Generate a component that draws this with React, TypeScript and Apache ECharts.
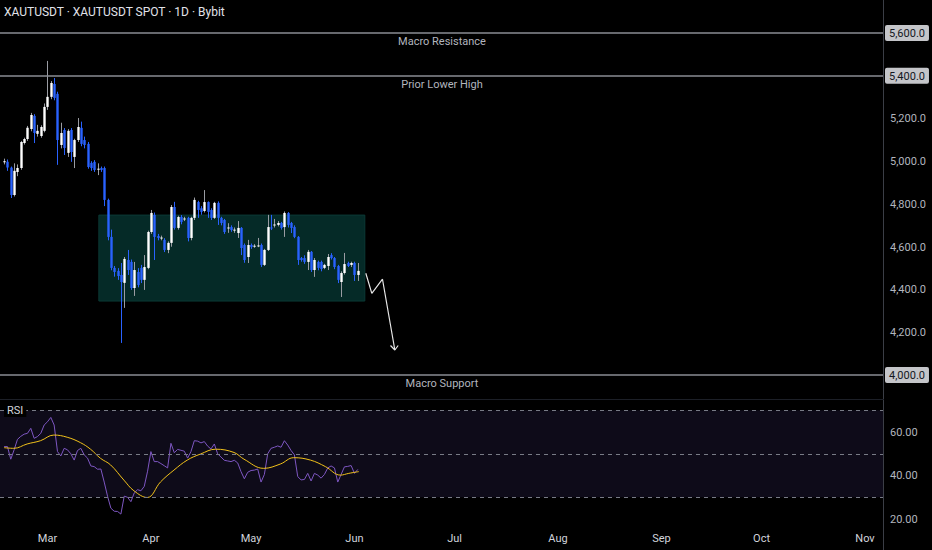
import React, { useEffect, useRef } from "react";
import * as echarts from "echarts";

// ---- Data (daily candles, day offsets relative to 1 Mar; first candle = 16 Feb) ----
const FIRST_DAY = -13;
const openVals = [
  4995, 4998, 4970, 4842, 4950, 4968, 5085, 5104, 5151, 5212,
  5128, 5118, 5142, 5254, 5301, 5361, 5315, 5076, 5146, 5039,
  5146, 5020, 5099, 5156, 5099, 5081, 4992, 4997, 4962, 4968,
  4968, 4819, 4646, 4501, 4487, 4468, 4431, 4538, 4529, 4407,
  4482, 4501, 4445, 4501, 4669, 4749, 4650, 4641, 4632, 4585,
  4618, 4786, 4688, 4739, 4728, 4735, 4641, 4735, 4809, 4780,
  4767, 4809, 4772, 4735, 4805, 4735, 4725, 4686, 4692, 4676,
  4664, 4688, 4608, 4552, 4608, 4602, 4604, 4608, 4515, 4585,
  4690, 4700, 4702, 4711, 4692, 4758, 4711, 4692, 4646, 4547,
  4547, 4529, 4576, 4491, 4529, 4529, 4501, 4510, 4561, 4547,
  4510, 4435, 4477, 4524, 4515, 4524, 4468,
];
const closeVals = [
  5000, 4970, 4842, 4955, 4968, 5090, 5104, 5156, 5216, 5132,
  5142, 5160, 5254, 5301, 5366, 5296, 5099, 5132, 5062, 5142,
  5043, 5099, 5160, 5081, 5076, 4973, 4968, 4959, 4965, 4959,
  4819, 4646, 4501, 4482, 4463, 4435, 4543, 4491, 4407, 4491,
  4421, 4445, 4505, 4669, 4758, 4646, 4641, 4643, 4585, 4618,
  4786, 4688, 4739, 4716, 4732, 4641, 4735, 4819, 4772, 4763,
  4809, 4763, 4735, 4805, 4735, 4711, 4669, 4690, 4678, 4680,
  4688, 4594, 4538, 4608, 4599, 4605, 4606, 4515, 4585, 4692,
  4688, 4704, 4711, 4688, 4758, 4702, 4688, 4646, 4538, 4538,
  4529, 4576, 4491, 4538, 4501, 4496, 4515, 4552, 4547, 4505,
  4445, 4477, 4519, 4510, 4524, 4468, 4487,
];
const lowVals = [
  4985, 4955, 4828, 4835, 4930, 4960, 5078, 5095, 5140, 5085,
  5115, 5110, 5135, 5240, 5290, 5285, 4983, 5060, 5029, 5020,
  4997, 4968, 5090, 5070, 5060, 4965, 4955, 4950, 4935, 4950,
  4790, 4630, 4490, 4460, 4445, 4150, 4314, 4468, 4398, 4370,
  4410, 4430, 4398, 4495, 4660, 4538, 4630, 4630, 4575, 4570,
  4600, 4680, 4680, 4705, 4720, 4625, 4630, 4725, 4735, 4750,
  4760, 4735, 4725, 4730, 4702, 4700, 4660, 4665, 4670, 4665,
  4641, 4561, 4525, 4524, 4590, 4595, 4598, 4505, 4510, 4580,
  4678, 4690, 4695, 4680, 4646, 4690, 4664, 4640, 4515, 4530,
  4520, 4491, 4482, 4459, 4490, 4485, 4495, 4491, 4540, 4495,
  4430, 4365, 4470, 4505, 4505, 4440, 4440,
];
const highVals = [
  5012, 5008, 4975, 4990, 4985, 5095, 5110, 5165, 5226, 5220,
  5170, 5168, 5270, 5469, 5375, 5389, 5325, 5180, 5155, 5150,
  5155, 5105, 5202, 5185, 5115, 5090, 5000, 5005, 4990, 4975,
  4975, 4825, 4680, 4510, 4500, 4524, 4552, 4585, 4540, 4529,
  4500, 4515, 4561, 4675, 4772, 4760, 4660, 4652, 4640, 4625,
  4795, 4810, 4745, 4748, 4740, 4740, 4740, 4830, 4815, 4790,
  4865, 4812, 4780, 4810, 4812, 4740, 4730, 4710, 4700, 4690,
  4720, 4692, 4615, 4632, 4615, 4612, 4641, 4615, 4590, 4749,
  4749, 4730, 4720, 4716, 4765, 4762, 4716, 4700, 4650, 4552,
  4560, 4585, 4580, 4547, 4535, 4535, 4520, 4566, 4570, 4552,
  4515, 4485, 4571, 4530, 4530, 4530, 4524,
];

const rsiVals = [
  53.3, 53.3, 47.5, 51.8, 56.6, 58.0, 59.0, 59.4, 61.7, 57.1,
  57.9, 59.4, 63.2, 64.7, 66.7, 63.2, 51.0, 49.0, 52.5, 51.8,
  50.0, 47.1, 51.5, 52.5, 49.5, 48.0, 44.4, 44.1, 42.9, 43.0,
  37.0, 30.5, 25.0, 23.6, 23.5, 22.3, 30.5, 30.0, 28.0, 32.0,
  33.5, 33.0, 35.0, 42.0, 51.0, 46.4, 46.4, 45.5, 44.5, 43.5,
  54.8, 50.5, 52.0, 51.6, 51.2, 48.0, 51.0, 56.0, 55.8, 55.0,
  55.6, 53.5, 52.2, 54.5, 50.0, 48.5, 47.0, 46.7, 46.4, 47.0,
  45.8, 41.8, 38.5, 41.5, 42.3, 42.5, 43.0, 37.0, 40.5, 50.0,
  52.5, 53.0, 53.6, 53.0, 56.0, 54.0, 51.5, 49.5, 39.5, 38.0,
  38.2, 41.0, 37.5, 41.0, 40.2, 38.8, 40.5, 43.5, 44.4, 43.5,
  37.0, 40.5, 44.0, 44.2, 44.6, 41.0, 42.8,
];

// RSI-based MA, read at candle positions (candle index, value)
const maIdx = [0, 2.9, 6.9, 10.9, 14.9, 18.9, 22.9, 25.9, 28.9, 31.9, 35.9, 38.9, 42.9, 46.9, 50.9, 54.9, 58.9, 63.4, 68.9, 71.9, 77.8, 82.8, 86.8, 91.8, 96.3, 100.8, 103.3, 106.3];
const maVals = [52.8, 52.5, 54.5, 56.0, 58.6, 57.6, 55.1, 52.1, 47.9, 44.9, 37.9, 33.0, 29.9, 37.1, 42.5, 47.1, 49.9, 52.1, 50.6, 47.5, 43.3, 45.3, 48.2, 47.1, 44.1, 40.2, 41.0, 41.8];

// Axis ticks
const monthDays = [0, 31, 61, 92, 122, 153, 184, 214, 245];
const monthLabels = ["Mar", "Apr", "May", "Jun", "Jul", "Aug", "Sep", "Oct", "Nov"];
const priceTicks = [4000, 4200, 4400, 4600, 4800, 5000, 5200, 5400, 5600];
const boxedPrices = [4000, 5400, 5600];
const rsiTicks = [20, 40, 60];

// Levels and annotations
const levelPrices = [5600, 5400, 4000];
const levelNames = ["Macro Resistance", "Prior Lower High", "Macro Support"];
const rangeBox = { fromDay: 15.4, toDay: 95.1, top: 4748, bottom: 4346 };
const arrowDays = [95.4, 97.2, 100.4, 104.1];
const arrowPrices = [4476, 4382, 4448, 4117];
const headDays = [102.8, 104.1, 105.1];
const headPrices = [4138, 4117, 4138];

const X_MIN = -14.23;
const X_MAX = 250.7;

export default function App() {
  const ref = useRef<HTMLDivElement>(null);

  useEffect(() => {
    document.body.style.margin = "0";
    document.body.style.background = "#000";
    const chart = echarts.init(ref.current!, null, { renderer: "svg" });

    const candleData = openVals.map((o, i) => [i + FIRST_DAY, o, closeVals[i], lowVals[i], highVals[i]]);
    const rsiData = rsiVals.map((v, i) => [i + FIRST_DAY, v]);
    const maData = maVals.map((v, i) => [maIdx[i] + FIRST_DAY, v]);
    const font = "Roboto, 'Noto Sans', sans-serif";

    const option: any = {
      animation: false,
      backgroundColor: "#000000",
      textStyle: { fontFamily: font },
      grid: [
        { left: 0, right: 48, top: 0, height: 398 },
        { left: 0, right: 48, top: 400, height: 128 },
      ],
      xAxis: [
        {
          type: "value", gridIndex: 0, min: X_MIN, max: X_MAX,
          axisLine: { show: false }, axisTick: { show: false }, axisLabel: { show: false }, splitLine: { show: false },
        },
        {
          type: "value", gridIndex: 1, min: X_MIN, max: X_MAX,
          axisLine: { show: false }, axisTick: { show: false }, splitLine: { show: false },
          axisLabel: {
            customValues: monthDays,
            color: "#d1d4dc", fontSize: 11, margin: 5, fontFamily: font,
            formatter: (v: number) => {
              const k = monthDays.indexOf(Math.round(v));
              return k >= 0 ? monthLabels[k] : "";
            },
          },
        },
      ],
      yAxis: [
        {
          type: "value", gridIndex: 0, position: "right", min: 3892.5, max: 5754,
          axisLine: { show: false }, axisTick: { show: false }, splitLine: { show: false },
          axisLabel: {
            customValues: priceTicks, align: "left", margin: 1, fontFamily: font,
            formatter: (v: number) => {
              const t = v.toLocaleString("en-US", { minimumFractionDigits: 1, maximumFractionDigits: 1 });
              return boxedPrices.indexOf(Math.round(v)) >= 0 ? `{b|${t}}` : `{p|${t}}`;
            },
            rich: {
              b: { backgroundColor: "#c4c5c9", color: "#131722", fontSize: 11, borderRadius: 2, padding: [3, 4, 2, 4], fontFamily: font },
              p: { color: "#b2b5be", fontSize: 11, padding: [3, 4, 2, 5], fontFamily: font },
            },
          },
        },
        {
          type: "value", gridIndex: 1, position: "right", min: 15.9, max: 74.7,
          axisLine: { show: false }, axisTick: { show: false }, splitLine: { show: false },
          axisLabel: {
            customValues: rsiTicks, align: "left", margin: 6, color: "#b2b5be", fontSize: 11, fontFamily: font,
            formatter: (v: number) => v.toFixed(2),
          },
        },
      ],
      series: [
        {
          name: "levels", type: "line", xAxisIndex: 0, yAxisIndex: 0, z: 1, silent: true,
          data: [], showSymbol: false,
          markArea: {
            silent: true,
            itemStyle: { color: "#052a27", borderColor: "#0b3a36", borderWidth: 1 },
            data: [[{ coord: [rangeBox.fromDay, rangeBox.top] }, { coord: [rangeBox.toDay, rangeBox.bottom] }]],
          },
          markLine: {
            silent: true, symbol: "none",
            lineStyle: { color: "#8a8c93", width: 1.5, type: "solid" },
            label: {
              show: true, position: "insideMiddleBottom", formatter: "{b}",
              color: "#b2b5be", fontSize: 11, distance: 3, fontFamily: font,
            },
            data: levelPrices.map((p, i) => ({ yAxis: p, name: levelNames[i] })),
          },
        },
        {
          name: "XAUTUSDT", type: "custom", xAxisIndex: 0, yAxisIndex: 0, z: 2,
          data: candleData,
          encode: { x: 0, y: [1, 2, 3, 4] },
          renderItem: (params: any, api: any) => {
            const d = api.value(0);
            const o = api.value(1), c = api.value(2), l = api.value(3), h = api.value(4);
            const pO = api.coord([d, o]);
            const pC = api.coord([d, c]);
            const pL = api.coord([d, l]);
            const pH = api.coord([d, h]);
            const w = api.size([1, 0])[0] * 0.72;
            const up = c >= o;
            const top = Math.min(pO[1], pC[1]);
            const hgt = Math.max(Math.abs(pO[1] - pC[1]), 1);
            const cx = Math.round(pO[0]) + 0.5;
            return {
              type: "group",
              children: [
                {
                  type: "line",
                  shape: { x1: cx, y1: pH[1], x2: cx, y2: pL[1] },
                  style: { stroke: up ? "#9a9ca3" : "#2962ff", lineWidth: 1 },
                },
                {
                  type: "rect",
                  shape: { x: cx - w / 2, y: top, width: w, height: hgt },
                  style: { fill: up ? "#ffffff" : "#2962ff" },
                },
              ],
            };
          },
        },
        {
          name: "path", type: "line", xAxisIndex: 0, yAxisIndex: 0, z: 3, silent: true,
          data: arrowDays.map((d, i) => [d, arrowPrices[i]]),
          showSymbol: false, symbol: "none",
          lineStyle: { color: "#e6e6e6", width: 1.2 },
        },
        {
          name: "head", type: "line", xAxisIndex: 0, yAxisIndex: 0, z: 3, silent: true,
          data: headDays.map((d, i) => [d, headPrices[i]]),
          showSymbol: false, symbol: "none",
          lineStyle: { color: "#e6e6e6", width: 1.2 },
        },
        {
          name: "RSI", type: "line", xAxisIndex: 1, yAxisIndex: 1, z: 3,
          data: rsiData, showSymbol: false, symbol: "none",
          lineStyle: { color: "#7e57c2", width: 1 },
          markArea: {
            silent: true,
            itemStyle: { color: "#0e0b19" },
            data: [[{ yAxis: 70 }, { yAxis: 30 }]],
          },
          markLine: {
            silent: true, symbol: "none",
            lineStyle: { color: "#787b86", width: 1, type: [4, 4] },
            label: { show: false },
            data: [{ yAxis: 70 }, { yAxis: 50 }, { yAxis: 30 }],
          },
        },
        {
          name: "RSI MA", type: "line", xAxisIndex: 1, yAxisIndex: 1, z: 4,
          data: maData, showSymbol: false, symbol: "none", smooth: 0.4,
          lineStyle: { color: "#f2c21b", width: 1 },
        },
      ],
      graphic: [
        {
          type: "line", silent: true, z: 10,
          shape: { x1: 883.5, y1: 0, x2: 883.5, y2: 550 },
          style: { stroke: "#3b3e46", lineWidth: 1 },
        },
        {
          type: "line", silent: true, z: 10,
          shape: { x1: 0, y1: 399.5, x2: 884, y2: 399.5 },
          style: { stroke: "#1c1f27", lineWidth: 1 },
        },
        {
          type: "text", left: 4, top: 6, silent: true, z: 100,
          style: { text: "XAUTUSDT · XAUTUSDT SPOT · 1D · Bybit", fill: "#e1e3ea", fontSize: 12, fontFamily: font },
        },
        {
          type: "text", left: 4, top: 404, silent: true, z: 100,
          style: {
            text: "RSI", fill: "#d1d4dc", fontSize: 11, fontFamily: font,
            backgroundColor: "#000000", padding: [1, 3, 1, 3],
          },
        },
      ],
    };

    chart.setOption(option);
    return () => chart.dispose();
  }, []);

  return <div ref={ref} style={{ width: 932, height: 550, background: "#000" }} />;
}
